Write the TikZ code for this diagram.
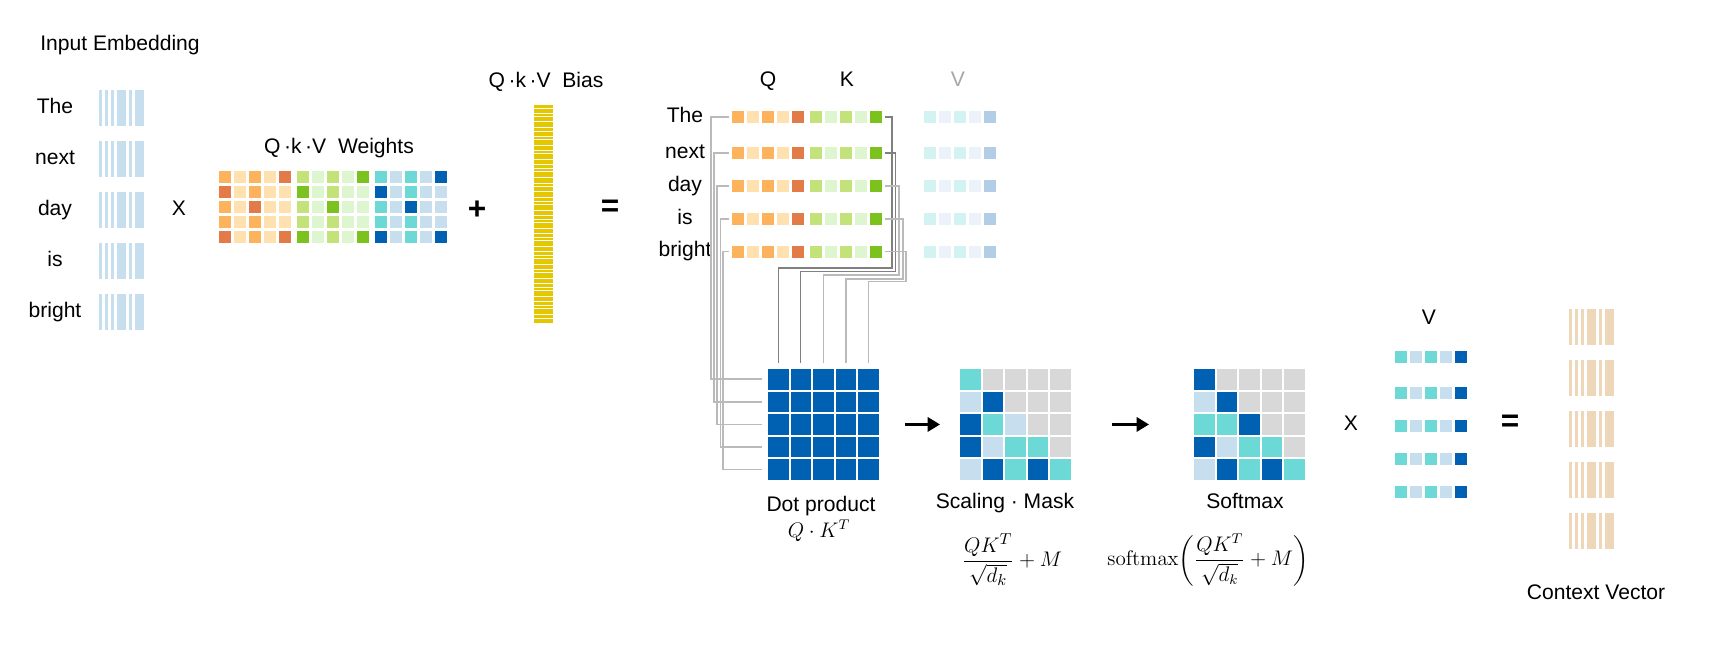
\documentclass[tikz,border=0pt]{standalone}
\usepackage[no-math]{fontspec}
\setmainfont{Liberation Sans}
\usepackage{amsmath}
\usepackage{xcolor}
\usetikzlibrary{arrows.meta}

\definecolor{qm}{HTML}{FDB35C}
\definecolor{qp}{HTML}{FEE1AE}
\definecolor{qd}{HTML}{E37B48}
\definecolor{km}{HTML}{C3E37A}
\definecolor{kp}{HTML}{DEF6D0}
\definecolor{kd}{HTML}{7CC21E}
\definecolor{vm}{HTML}{6CD9D6}
\definecolor{vp}{HTML}{C6DEEE}
\definecolor{vd}{HTML}{0061B2}
\definecolor{vg}{HTML}{D8D8D8}
\definecolor{fm}{HTML}{D3F2F2}
\definecolor{fp}{HTML}{EBF2F9}
\definecolor{fd}{HTML}{B1CEE6}
\definecolor{embblue}{HTML}{C6DEEE}
\definecolor{ctxtan}{HTML}{EED7B9}
\definecolor{biasyel}{HTML}{E5C700}

\begin{document}
\begin{tikzpicture}[
    x=0.02cm, y=-0.02cm,
    lbl/.style={font=\fontsize{12}{14}\selectfont, inner sep=0pt, text height=8.6pt, text depth=2.5pt},
    mathlbl/.style={font=\fontsize{#1}{14}\selectfont, inner sep=0pt},
    sym/.style={font=\bfseries\fontsize{18}{20}\selectfont, inner sep=0pt},
    cell/.style={minimum size=0.24cm, inner sep=0pt, outer sep=0pt},
    bigcell/.style={minimum size=0.41cm, inner sep=0pt, outer sep=0pt},
    link/.style={draw=black!27, line width=0.9pt},
    darklink/.style={draw=black!50, line width=0.6pt},
    flow/.style={-{Triangle[length=7pt,width=8pt]}, line width=1.6pt}
]
\useasboundingbox (0,0) rectangle (1713,663);

% input embedding
\node[lbl] (inlabel) at (120,45) {Input Embedding};
\foreach \w/\y [count=\i] in {The/90, next/141, day/192, is/243, bright/294} {
  \node[lbl] (word\i) at (55,\y+18) {\w};
  \foreach \a/\b in {0/3, 6/9, 12/15, 18/27, 30/33, 36/45}
    \fill[embblue] (99+\a,\y) rectangle (99+\b,\y+36);
}
\node[lbl] (times1) at (179,210) {X};

% weights
\node[lbl] (wlabel) at (339,148) {Q\,·k\,·V\ \ Weights};
\foreach \g [count=\gi from 0] in {q,k,v}
  \foreach \pat [count=\r] in {{m,p,m,p,d},{d,p,m,p,p},{m,p,d,p,p},{m,p,m,p,p},{d,p,m,p,d}}
    \foreach \cc [count=\c] in \pat
      \node[cell, fill=\g\cc] (w\g-\r-\c) at ({225+78*\gi+15*(\c-1)},{177+15*(\r-1)}) {};
\node[sym] (plus) at (477,210) {+};

% bias
\node[lbl] (blabel) at (546,82) {Q\,·k\,·V\ \ Bias};
\node[fill=biasyel, minimum width=0.38cm, minimum height=4.36cm, inner sep=0pt] (bias) at (543.5,214) {};
\foreach \y in {108,113,116,121,127,131,136,139,145,150,153,159,164,168,171,177,183,186,191,197,201,204,210,215,219,222,228,233,237,240,246,251,255,258,264,269,272,278,283,287,290,296,301,305,308,314,318}
  \draw[white, line width=0.5pt] (bias.west |- 0,\y) -- (bias.east |- 0,\y);
\node[sym] (eq1) at (610,208) {=};

% Q K V rows
\node[lbl] (qhead) at (768,81) {Q};
\node[lbl] (khead) at (847,81) {K};
\node[lbl, text=black!35] (vhead) at (958,81) {V};
\foreach \w/\y [count=\r] in {The/117, next/153, day/186, is/219, bright/251.5} {
  \node[lbl] (tok\r) at (685,\y) {\w};
  \foreach \cc [count=\c] in {m,p,m,p,d} {
    \node[cell, fill=q\cc] (q\r-\c) at ({738+15*(\c-1)},\y) {};
    \node[cell, fill=k\cc] (k\r-\c) at ({816+15*(\c-1)},\y) {};
    \node[cell, fill=f\cc] (v\r-\c) at ({930+15*(\c-1)},\y) {};
  }
}

% dot product
\foreach \r in {1,...,5}
  \foreach \c in {1,...,5}
    \node[bigcell, fill=vd] (dp-\r-\c) at ({778.25+22.6*(\c-1)},{379.25+22.6*(\r-1)}) {};

% Q rows into the rows, K rows into the columns
\foreach \r/\d in {1/21, 2/18, 3/15, 4/11.5, 5/9}
  \draw[link, shorten <=0.06cm, shorten >=0.12cm] (q\r-1.west) -- ++(-\d,0) |- (dp-\r-1.west);
\foreach \r/\d/\h/\s in {1/10/268/darklink, 2/13.5/271.7/darklink, 3/17/275/link, 4/21/279/link, 5/24/281.3/link}
  \draw[\s, shorten <=0.06cm, shorten >=0.12cm] (k\r-5.east) -- ++(\d,0) |- (dp-1-\r.north |- 0,\h) -- (dp-1-\r.north);

% scaling and mask
\foreach \pat [count=\r] in {{m,g,g,g,g},{p,d,g,g,g},{d,m,p,g,g},{d,p,m,m,g},{p,d,m,d,m}}
  \foreach \cc [count=\c] in \pat
    \node[bigcell, fill=v\cc] (sc-\r-\c) at ({970.25+22.6*(\c-1)},{379.25+22.6*(\r-1)}) {};

% softmax
\foreach \pat [count=\r] in {{d,g,g,g,g},{p,d,g,g,g},{m,m,d,g,g},{d,p,m,m,g},{p,d,m,d,m}}
  \foreach \cc [count=\c] in \pat
    \node[bigcell, fill=v\cc] (sm-\r-\c) at ({1204.25+22.6*(\c-1)},{379.25+22.6*(\r-1)}) {};

\draw[flow, shorten <=0.52cm, shorten >=0.4cm] (dp-3-5.east) -- (sc-3-1.west);
\draw[flow, shorten <=0.82cm, shorten >=0.9cm] (sc-3-5.east) -- (sm-3-1.west);

\node[lbl] (dplabel) at (821,506) {Dot product};
\node[mathlbl=11.6] (dpform) at (819,531) {$Q\cdot K^T$};
\node[lbl] (sclabel) at (1005,503) {Scaling · Mask};
\node[mathlbl=12.7] (scform) at (1012,560) {$\dfrac{QK^T}{\sqrt{d_k}}+M$};
\node[lbl] (smlabel) at (1245,503) {Softmax};
\node[mathlbl=11.7] (smform) at (1208,560) {$\mathrm{softmax}\!\left(\dfrac{QK^T}{\sqrt{d_k}}+M\right)$};

% V
\node[lbl] (vlabel) at (1429,319) {V};
\foreach \y [count=\r] in {357,393,426,459,492}
  \foreach \cc [count=\c] in {m,p,m,p,d}
    \node[cell, fill=v\cc] (vr\r-\c) at ({1401+15*(\c-1)},\y) {};
\node[lbl] (times2) at (1351,425) {X};
\node[sym] (eq2) at (1510,423) {=};

% context vector
\foreach \y [count=\i] in {309,360,411,462,513}
  \foreach \a/\b in {0/3, 6/9, 12/15, 18/27, 30/33, 36/45}
    \fill[ctxtan] (1569+\a,\y) rectangle (1569+\b,\y+36);
\node[lbl] (ctxlabel) at (1596,594) {Context Vector};
\end{tikzpicture}
\end{document}
